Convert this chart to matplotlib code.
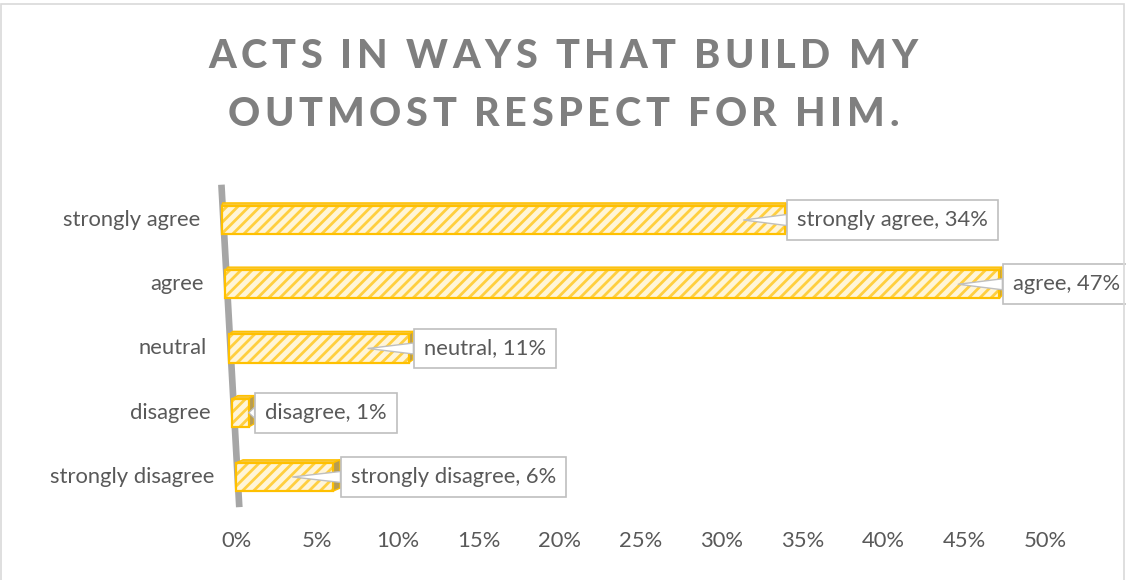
import matplotlib
matplotlib.use("Agg")
import matplotlib.pyplot as plt
from matplotlib.patches import Polygon, Rectangle
from matplotlib.transforms import Affine2D, IdentityTransform, offset_copy
from matplotlib.font_manager import FontProperties

# ---- data -------------------------------------------------------------
categories = ["strongly agree", "agree", "neutral", "disagree", "strongly disagree"]
values = [34, 47, 11, 1, 6]
xticks = [0, 5, 10, 15, 20, 25, 30, 35, 40, 45, 50]
xtick_labels = [f"{t}%" for t in xticks]
title_lines = ["ACTS IN WAYS THAT BUILD MY", "OUTMOST RESPECT FOR HIM."]

# ---- style ------------------------------------------------------------
W, H, DPI = 1126, 580, 100
FONT = "Lato"
TEXT = "#595959"
TITLE_COLOR = "#7F7F7F"
FS = 15.8
FACE = "#FFF5D8"
STRIPE = "#FFCF40"
EDGE = "#FFC000"
TOP_FACE = "#F7C841"
END_FACE = "#B79C52"
WALL = "#A6A6A6"
BAR_H = 0.44
SHIFT = 0.22   # sideways drift of each bar's base per row (in % units)
GROW = 0.006   # perspective stretch per row

plt.rcParams["hatch.linewidth"] = 2.0

fig = plt.figure(figsize=(W / DPI, H / DPI), dpi=DPI)
ax = fig.add_axes([236 / W, (H - 515.5) / H, 809 / W, 334 / H])
ax.set_xlim(0, 50)
ax.set_ylim(-0.6, 4.6)
for s in ax.spines.values():
    s.set_visible(False)
ax.set_yticks([])
ax.set_xticks(xticks, xtick_labels)
ax.tick_params(axis="x", length=0, pad=11.5, labelsize=FS, labelcolor=TEXT)
for lab in ax.get_xticklabels():
    lab.set_fontfamily(FONT)

n = len(categories)


def row_transform(r):
    return Affine2D().scale(1 + GROW * r, 1).translate(-SHIFT * r, 0) + ax.transData


# slanted back wall
wall_y = [-0.47, 4.55]
wall_x = [-SHIFT * y + 0.1 for y in wall_y]
ax.plot(wall_x, wall_y, color=WALL, lw=4.8, solid_capstyle="butt",
        clip_on=False, zorder=1)

ident = IdentityTransform()
for i, (cat, v) in enumerate(zip(categories, values)):
    r = n - 1 - i
    y = r
    tr = row_transform(r)
    dx, dy = 1 + 1.5 * (n - 1 - r), 3

    y0, y1 = y - BAR_H / 2, y + BAR_H / 2
    P = tr.transform([(0, y0), (v, y0), (v, y1), (0, y1)])
    top = [P[3], P[2], P[2] + [dx, dy], P[3] + [dx, dy]]
    end = [P[1], P[1] + [dx, dy], P[2] + [dx, dy], P[2]]
    ax.add_patch(Polygon(top, closed=True, transform=ident, facecolor=TOP_FACE,
                         edgecolor=EDGE, lw=1, zorder=2, clip_on=False))
    ax.add_patch(Polygon(end, closed=True, transform=ident, facecolor=END_FACE,
                         edgecolor=EDGE, lw=1, zorder=2, clip_on=False))

    # front face: striped fill, then golden outline
    ax.add_patch(Rectangle((0, y0), v, BAR_H, transform=tr, facecolor=FACE,
                           edgecolor=STRIPE, hatch="///", lw=0, zorder=3,
                           clip_on=False))
    ax.add_patch(Rectangle((0, y0), v, BAR_H, transform=tr, fill=False,
                           edgecolor=EDGE, lw=1.6, zorder=4, clip_on=False))

    # category label, following the slant of the wall
    ax.text(0, y, cat, transform=offset_copy(tr, fig, x=-22, units="dots"),
            ha="right", va="center", fontsize=FS, color=TEXT, family=FONT)

    # data callout
    tip = v - 2.5 if v > 5 else v
    fs_px = FS * DPI / 72
    text_tr = offset_copy(tr, fig, x=dx + 1 + 0.45 * fs_px, units="dots")
    ax.annotate(f"{cat}, {v}%", xy=(tip, y), xycoords=tr,
                xytext=(v, y), textcoords=text_tr,
                ha="left", va="center", fontsize=FS, color=TEXT, family=FONT,
                bbox=dict(boxstyle="square,pad=0.45", fc="white", ec="#BFBFBF", lw=1.2),
                arrowprops=dict(arrowstyle="wedge,tail_width=0.5", fc="white",
                                ec="#BFBFBF", lw=1, shrinkA=0, shrinkB=0),
                zorder=6, annotation_clip=False)

# chart border
fig.add_artist(Rectangle((1 / W, -0.05), 1123 / W, 1 - 4 / H + 0.05,
                         transform=fig.transFigure, fill=False,
                         edgecolor="#D9D9D9", lw=1.2))

# title with letter spacing
renderer = fig.canvas.get_renderer()
fp = FontProperties(family=FONT, weight="black", size=28.5)


def text_width(s):
    return renderer.get_text_width_height_descent(s, fp, ismath=False)[0]


base_w = text_width("HH")
TRACK = 4.5
for line, baseline in zip(title_lines, [68, 126]):
    advs = [text_width("H" + c + "H") - base_w for c in line]
    total = sum(advs) + TRACK * (len(line) - 1)
    x = W / 2 - total / 2
    for c, a in zip(line, advs):
        fig.text(x / W, 1 - baseline / H, c, fontproperties=fp,
                 color=TITLE_COLOR, ha="left", va="baseline")
        x += a + TRACK

fig.savefig("out.png", dpi=DPI, facecolor="white")
